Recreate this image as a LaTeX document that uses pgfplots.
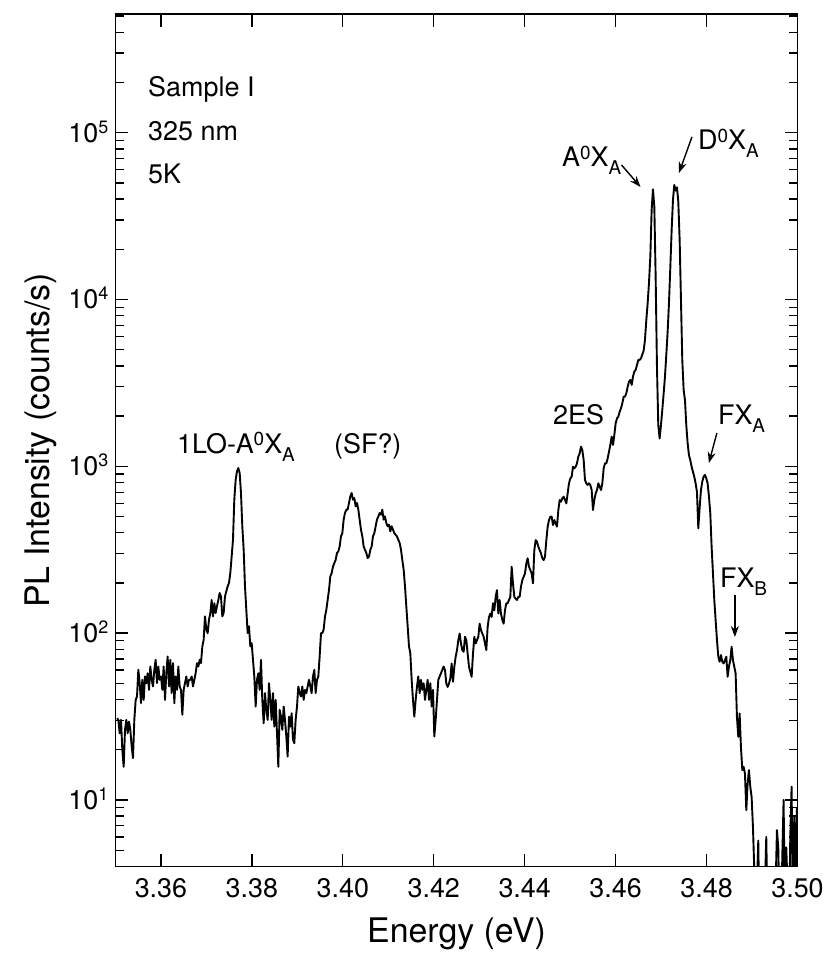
\documentclass[border=0pt]{standalone}
\usepackage{pgfplots}
\pgfplotsset{compat=1.18}
\usepackage{fontspec}
\setmainfont{TeX Gyre Heros}
\usetikzlibrary{arrows.meta}
\newcommand\tenp[1]{10\smash{\raisebox{9bp}{\fontsize{18}{18}\selectfont #1}}}
\newcommand\hi[1]{\raisebox{7.5bp}{\fontsize{19}{19}\selectfont #1}}
\newcommand\lo[1]{\raisebox{-8bp}{\fontsize{19}{19}\selectfont #1}}
\begin{document}
\begin{tikzpicture}
\begin{axis}[
  scale only axis, width=682bp, height=852.7bp,
  xmin=3.35, xmax=3.50, ymode=log, ymin=3.98, ymax=5.15e5,
  xtick={3.36,3.38,3.40,3.42,3.44,3.46,3.48,3.50},
  xticklabels={3.36,3.38,3.40,3.42,3.44,3.46,3.48,3.50},
  ytick={10,100,1000,10000,100000},
  yticklabels={\tenp{1},\tenp{2},\tenp{3},\tenp{4},\tenp{5}},
  minor ytick={5,6,7,8,9,20,30,40,50,60,70,80,90,200,300,400,500,600,700,800,900,2000,3000,4000,5000,6000,7000,8000,9000,20000,30000,40000,50000,60000,70000,80000,90000,200000,300000,400000,500000},
  minor x tick num=0,
  tick pos=both, tick align=inside,
  major tick length=13bp, minor tick length=9bp,
  axis line style={line width=1.6bp},
  tick style={line width=1.3bp, black},
  ticklabel style={font=\fontsize{27}{30}\selectfont},
  xticklabel style={anchor=base, inner sep=0pt, yshift=-31bp},
  yticklabel style={anchor=east, inner sep=0pt, xshift=-7bp},
  xlabel={Energy (eV)},
  ylabel={PL Intensity (counts/s)},
  label style={font=\fontsize{34}{40}\selectfont},
  xlabel style={at={([yshift=-75.3bp]axis description cs:0.5,0)}, anchor=base, inner sep=0pt},
  ylabel style={at={([xshift=-66bp]axis description cs:0,0.5)}, anchor=base, inner sep=0pt},
]
\addplot[black, line width=1.9bp, line join=round] coordinates {
(3.35033,30.9)(3.35062,30.2)(3.35092,25.1)(3.35121,30.2)(3.35150,20.0)(3.35180,15.8)(3.35209,26.3)(3.35238,30.2)(3.35268,25.1)(3.35297,29.5)
(3.35326,26.3)(3.35356,20.9)(3.35385,17.8)(3.35414,30.2)(3.35444,39.8)(3.35473,41.7)(3.35502,60.3)(3.35532,50.1)(3.35561,38.0)(3.35590,52.5)
(3.35620,39.8)(3.35649,55.0)(3.35678,50.1)(3.35707,57.5)(3.35737,45.7)(3.35766,63.1)(3.35795,52.5)(3.35825,47.9)(3.35854,60.3)(3.35883,69.2)
(3.35913,50.1)(3.35942,63.1)(3.35971,52.5)(3.36001,55.0)(3.36030,45.7)(3.36059,63.1)(3.36089,39.8)(3.36118,57.5)(3.36147,72.4)(3.36177,47.9)
(3.36206,69.2)(3.36235,43.7)(3.36265,66.1)(3.36294,38.0)(3.36323,55.0)(3.36353,45.7)(3.36382,63.1)(3.36411,47.9)(3.36441,45.7)(3.36470,32.4)
(3.36499,45.7)(3.36528,50.1)(3.36558,55.0)(3.36587,47.9)(3.36616,52.5)(3.36646,52.5)(3.36675,55.0)(3.36704,47.9)(3.36734,52.5)(3.36763,57.5)
(3.36792,66.1)(3.36822,63.1)(3.36851,69.2)(3.36880,66.1)(3.36910,83.2)(3.36939,91.2)(3.36968,126)(3.36998,105)(3.37027,100)(3.37056,120)
(3.37086,132)(3.37115,158)(3.37144,126)(3.37174,151)(3.37203,132)(3.37232,145)(3.37262,158)(3.37291,174)(3.37320,166)(3.37349,126)
(3.37379,132)(3.37408,166)(3.37437,178)(3.37467,191)(3.37496,200)(3.37525,229)(3.37555,288)(3.37584,363)(3.37613,631)(3.37643,832)
(3.37672,933)(3.37701,977)(3.37731,912)(3.37760,692)(3.37789,437)(3.37819,316)(3.37848,191)(3.37877,138)(3.37907,100)(3.37936,110)
(3.37965,83.2)(3.37995,87.1)(3.38024,69.2)(3.38053,55.0)(3.38083,36.3)(3.38112,52.5)(3.38141,57.5)(3.38171,45.7)(3.38200,69.2)(3.38229,39.8)
(3.38259,28.8)(3.38288,43.7)(3.38317,34.7)(3.38347,30.2)(3.38376,50.1)(3.38405,39.8)(3.38435,30.2)(3.38464,43.7)(3.38493,27.5)(3.38523,39.8)
(3.38552,25.1)(3.38581,15.8)(3.38611,34.7)(3.38640,31.6)(3.38669,26.3)(3.38699,36.3)(3.38728,30.2)(3.38757,24.0)(3.38786,18.2)(3.38816,31.6)
(3.38845,27.5)(3.38874,33.1)(3.38904,22.9)(3.38933,21.9)(3.38962,30.2)(3.38992,36.3)(3.39021,47.9)(3.39050,43.7)(3.39080,41.7)(3.39109,47.9)
(3.39138,39.8)(3.39168,45.7)(3.39197,43.7)(3.39226,47.9)(3.39256,52.5)(3.39285,47.9)(3.39314,43.7)(3.39344,55.0)(3.39373,60.3)(3.39402,43.7)
(3.39432,52.5)(3.39461,55.0)(3.39490,72.4)(3.39520,100)(3.39549,100)(3.39578,105)(3.39608,126)(3.39637,138)(3.39666,158)(3.39696,182)
(3.39725,219)(3.39754,229)(3.39784,251)(3.39813,263)(3.39842,275)(3.39871,302)(3.39901,309)(3.39930,331)(3.39959,380)(3.39989,398)
(3.40018,479)(3.40047,525)(3.40077,550)(3.40106,550)(3.40135,603)(3.40165,661)(3.40194,692)(3.40223,631)(3.40253,646)(3.40282,575)
(3.40311,603)(3.40341,550)(3.40370,479)(3.40399,417)(3.40429,380)(3.40458,331)(3.40487,316)(3.40517,302)(3.40546,282)(3.40575,288)
(3.40605,316)(3.40634,331)(3.40663,380)(3.40693,398)(3.40722,437)(3.40751,479)(3.40781,501)(3.40810,525)(3.40839,513)(3.40868,550)
(3.40898,479)(3.40927,501)(3.40956,457)(3.40986,437)(3.41015,447)(3.41044,407)(3.41074,437)(3.41103,417)(3.41132,398)(3.41162,389)
(3.41191,380)(3.41220,363)(3.41250,347)(3.41279,316)(3.41308,275)(3.41338,240)(3.41367,191)(3.41396,145)(3.41426,110)(3.41455,83.2)
(3.41484,75.9)(3.41514,52.5)(3.41543,39.8)(3.41572,31.6)(3.41602,39.8)(3.41631,47.9)(3.41660,55.0)(3.41690,43.7)(3.41719,52.5)(3.41748,45.7)
(3.41778,50.1)(3.41807,39.8)(3.41836,45.7)(3.41866,52.5)(3.41895,39.8)(3.41924,50.1)(3.41954,36.3)(3.41983,45.7)(3.42012,24.0)(3.42042,30.2)
(3.42071,39.8)(3.42100,52.5)(3.42130,55.0)(3.42159,57.5)(3.42188,60.3)(3.42217,63.1)(3.42247,60.0)(3.42276,49.9)(3.42305,47.6)(3.42335,49.9)
(3.42364,53.5)(3.42393,65.8)(3.42423,51.1)(3.42452,62.8)(3.42481,72.1)(3.42511,79.1)(3.42540,90.8)(3.42569,99.5)(3.42599,86.7)(3.42628,79.1)
(3.42657,77.3)(3.42687,95.1)(3.42716,90.8)(3.42745,75.5)(3.42775,62.8)(3.42804,58.6)(3.42833,54.7)(3.42863,75.5)(3.42892,95.1)(3.42921,86.7)
(3.42951,90.8)(3.42980,95.1)(3.43009,114)(3.43039,104)(3.43068,99.5)(3.43097,95.1)(3.43127,86.7)(3.43156,79.1)(3.43185,109)(3.43215,125)
(3.43244,131)(3.43273,125)(3.43302,151)(3.43332,137)(3.43361,165)(3.43390,181)(3.43420,131)(3.43449,158)(3.43478,131)(3.43508,120)
(3.43537,114)(3.43566,137)(3.43596,151)(3.43625,151)(3.43654,158)(3.43684,165)(3.43713,250)(3.43742,199)(3.43772,165)(3.43801,161)
(3.43830,158)(3.43860,165)(3.43889,165)(3.43918,190)(3.43948,208)(3.43977,218)(3.44006,228)(3.44036,262)(3.44065,281)(3.44094,250)
(3.44124,239)(3.44153,228)(3.44182,199)(3.44212,315)(3.44241,361)(3.44270,353)(3.44300,330)(3.44329,315)(3.44358,301)(3.44388,281)
(3.44417,274)(3.44446,287)(3.44476,361)(3.44505,435)(3.44534,476)(3.44564,499)(3.44593,499)(3.44622,445)(3.44652,476)(3.44681,455)
(3.44710,435)(3.44740,547)(3.44769,628)(3.44798,614)(3.44828,643)(3.44857,658)(3.44886,628)(3.44916,600)(3.44945,689)(3.44974,791)
(3.45004,847)(3.45033,867)(3.45062,995)(3.45091,973)(3.45121,995)(3.45150,1042)(3.45179,1143)(3.45209,1197)(3.45238,1312)(3.45267,1253)
(3.45297,1091)(3.45326,828)(3.45355,791)(3.45385,773)(3.45414,791)(3.45443,773)(3.45473,721)(3.45502,547)(3.45531,628)(3.45561,689)
(3.45590,721)(3.45619,791)(3.45649,755)(3.45678,721)(3.45707,791)(3.45737,973)(3.45766,1042)(3.45795,1042)(3.45825,1117)(3.45854,1225)
(3.45883,1343)(3.45913,1507)(3.45942,1343)(3.45971,1542)(3.46001,1811)(3.46030,1941)(3.46059,1986)(3.46089,2128)(3.46118,2228)(3.46147,2388)
(3.46177,2618)(3.46206,2618)(3.46235,2742)(3.46265,3006)(3.46294,3221)(3.46323,3296)(3.46353,3076)(3.46382,3451)(3.46411,3698)(3.46441,3784)
(3.46470,4055)(3.46499,4345)(3.46529,4345)(3.46557,4436)(3.46587,4688)(3.46616,4932)(3.46645,5715)(3.46675,7534)(3.46704,9484)(3.46733,12500)
(3.46763,18070)(3.46792,34440)(3.46821,45810)(3.46851,36060)(3.46880,13710)(3.46909,3954)(3.46938,1766)(3.46968,1469)(3.46997,1766)(3.47026,2173)
(3.47056,2735)(3.47085,3443)(3.47114,4645)(3.47144,6412)(3.47173,9484)(3.47202,15380)(3.47232,26120)(3.47261,39540)(3.47290,48640)(3.47320,44980)
(3.47349,47100)(3.47378,38640)(3.47408,22750)(3.47437,9931)(3.47466,4335)(3.47496,2864)(3.47525,2495)(3.47554,1766)(3.47584,1371)(3.47613,1167)
(3.47642,1089)(3.47672,993)(3.47701,927)(3.47730,865)(3.47760,789)(3.47789,703)(3.47818,425)(3.47847,561)(3.47877,722)(3.47906,810)
(3.47935,868)(3.47965,888)(3.47994,848)(3.48023,791)(3.48053,658)(3.48082,523)(3.48111,330)(3.48141,228)(3.48170,158)(3.48199,120)
(3.48229,90.9)(3.48258,72.2)(3.48287,67.4)(3.48317,73.9)(3.48346,67.4)(3.48375,65.8)(3.48404,68.9)(3.48434,72.2)(3.48463,54.8)(3.48492,62.9)
(3.48522,68.9)(3.48551,82.9)(3.48580,68.9)(3.48610,62.9)(3.48639,57.4)(3.48668,31.5)(3.48698,23.9)(3.48727,33.0)(3.48756,20.8)(3.48786,15.1)
(3.48815,15.8)(3.48844,14.4)(3.48874,8.68)(3.48903,12.5)(3.48932,15.1)(3.48962,12.0)(3.48991,10.4)(3.49020,6.89)(3.49050,3.79)(3.49079,1.5)
(3.49108,3)(3.49137,5.7)(3.49167,1.5)(3.49196,2)(3.49225,1.5)(3.49255,2)(3.49284,3)(3.49313,6.0)(3.49342,2)(3.49372,1.5)
(3.49401,2)(3.49430,1.5)(3.49460,2)(3.49489,1.5)(3.49518,3)(3.49548,6.6)(3.49577,5.2)(3.49606,2)(3.49636,1.5)(3.49665,4.5)
(3.49694,10.0)(3.49724,2)(3.49753,5.2)(3.49782,3)(3.49812,1.5)(3.49841,6)(3.49870,12.0)(3.49900,2)(3.49929,8)(3.49958,3)(3.49988,9)
};
\tikzset{anno/.style={font=\fontsize{27}{30}\selectfont, inner sep=0pt, anchor=base west},
         arr/.style={line width=1.4bp, -{Stealth[length=11bp,width=8bp]}}}
\node[anno] at (axis cs:3.35715,1.648e5) {Sample I};
\node[anno] at (axis cs:3.35715,8.98e4) {325 nm};
\node[anno] at (axis cs:3.35715,4.96e4) {5K};
\node[anno] at (axis cs:3.36353,1202) {1LO-A\hi{0}X\lo{A}};
\node[anno] at (axis cs:3.39805,1202) {(SF?)};
\node[anno] at (axis cs:3.44622,1770) {2ES};
\node[anno] at (axis cs:3.44820,62400) {A\hi{0}X\lo{A}};
\node[anno] at (axis cs:3.47811,78900) {D\hi{0}X\lo{A}};
\node[anno] at (axis cs:3.48249,1770) {FX\lo{A}};
\node[anno] at (axis cs:3.48293,189) {FX\lo{B}};
\draw[arr] (axis cs:3.46129,64100) -- (axis cs:3.46547,47300);
\draw[arr] (axis cs:3.47679,94400) -- (axis cs:3.47393,57400);
\draw[arr] (axis cs:3.48227,1585) -- (axis cs:3.48051,1047);
\draw[arr] (axis cs:3.48623,169) -- (axis cs:3.48623,94.8);
\end{axis}
\path (-115.5bp,-88.3bp) rectangle (711.5bp,866.7bp);
\end{tikzpicture}
\end{document}
